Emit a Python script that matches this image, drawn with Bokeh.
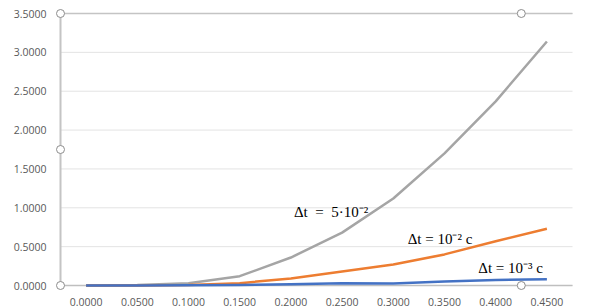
from bokeh.plotting import figure
from bokeh.models import Range1d, FixedTicker, NumeralTickFormatter, Label
from bokeh.embed import file_html
from bokeh.resources import INLINE

categories = ["0.0000", "0.0500", "0.1000", "0.1500", "0.2000",
              "0.2500", "0.3000", "0.3500", "0.4000", "0.4500"]
dt_5e2 = [0.0, 0.005, 0.03, 0.12, 0.36, 0.68, 1.12, 1.70, 2.37, 3.14]
dt_1e2 = [0.0, 0.001, 0.006, 0.03, 0.09, 0.18, 0.27, 0.40, 0.57, 0.73]
dt_1e3 = [0.0, 0.0, 0.003, 0.008, 0.015, 0.03, 0.025, 0.05, 0.07, 0.08]
y_ticks = [0.0, 0.5, 1.0, 1.5, 2.0, 2.5, 3.0, 3.5]

series_labels = ["Δt\u00a0\u00a0=\u00a0\u00a05·10⁻²", "Δt = 10⁻² c", "Δt = 10⁻³ c"]

n = len(categories)
idx = list(range(n))
y_min, y_max = y_ticks[0], y_ticks[-1]

# small padding so the frame handles are not clipped
px_x = 512.0 / n
px_y = 272.0 / (y_max - y_min)
pad_x = 5 / px_x
pad_y = 5 / px_y

p = figure(width=590, height=308, output_backend="svg", toolbar_location=None,
           x_range=Range1d(-0.5 - pad_x, n - 0.5 + pad_x),
           y_range=Range1d(y_min - pad_y, y_max + pad_y),
           min_border_left=55, min_border_right=13, min_border_top=8,
           min_border_bottom=18)
p.outline_line_color = None
p.background_fill_color = "white"
p.border_fill_color = "white"

# axes
p.xaxis.ticker = FixedTicker(ticks=idx)
p.xaxis.major_label_overrides = {i: c for i, c in zip(idx, categories)}
p.yaxis.ticker = FixedTicker(ticks=y_ticks)
p.yaxis.formatter = NumeralTickFormatter(format="0.0000")
for ax in (p.xaxis, p.yaxis):
    ax.major_tick_line_color = None
    ax.minor_tick_line_color = None
    ax.axis_line_color = None
    ax.major_label_text_font = "Open Sans"
    ax.major_label_text_font_size = "10.5px"
    ax.major_label_text_color = "#595959"
p.xaxis.major_label_standoff = 1
p.yaxis.major_label_standoff = 3

p.xgrid.grid_line_color = None
p.ygrid.grid_line_color = None

# gridlines across the plot area
x_left, x_right = -0.5, n - 0.5
p.segment(x0=[x_left] * len(y_ticks), x1=[x_right] * len(y_ticks),
          y0=y_ticks, y1=y_ticks, line_color="#e3e3e3", line_width=1)
# frame: top border, left axis, bottom axis
p.line(x=[x_left, x_right], y=[y_max, y_max], line_color="#c4c4c4", line_width=1.5)
p.line(x=[x_left, x_left], y=[y_min, y_max], line_color="#c4c4c4", line_width=2)
p.line(x=[x_left, x_right], y=[y_min, y_min], line_color="#bfbfbf", line_width=1.5)

p.line(idx, dt_5e2, line_color="#a5a5a5", line_width=2.5, line_join="round")
p.line(idx, dt_1e2, line_color="#ed7d31", line_width=2.5, line_join="round")
p.line(idx, dt_1e3, line_color="#4472c4", line_width=2.5, line_join="round")

# text labels
label_pos = [(4.06, 0.94), (6.28, 0.60), (7.66, 0.23)]
for (lx, ly), t in zip(label_pos, series_labels):
    p.add_layout(Label(x=lx, y=ly, text=t, text_font="Liberation Serif",
                       text_font_size="15px", text_color="#000000",
                       text_baseline="middle", text_align="left"))

# selection handles
handle_x = [x_left, x_left, x_left, 8.5, 8.5]
handle_y = [y_max, (y_min + y_max) / 2, y_min, y_max, y_min]
p.scatter(handle_x, handle_y, marker="circle", size=8, fill_color="white",
          line_color="#8c8c8c", line_width=1)

open("out.html", "w").write(file_html(p, INLINE))
